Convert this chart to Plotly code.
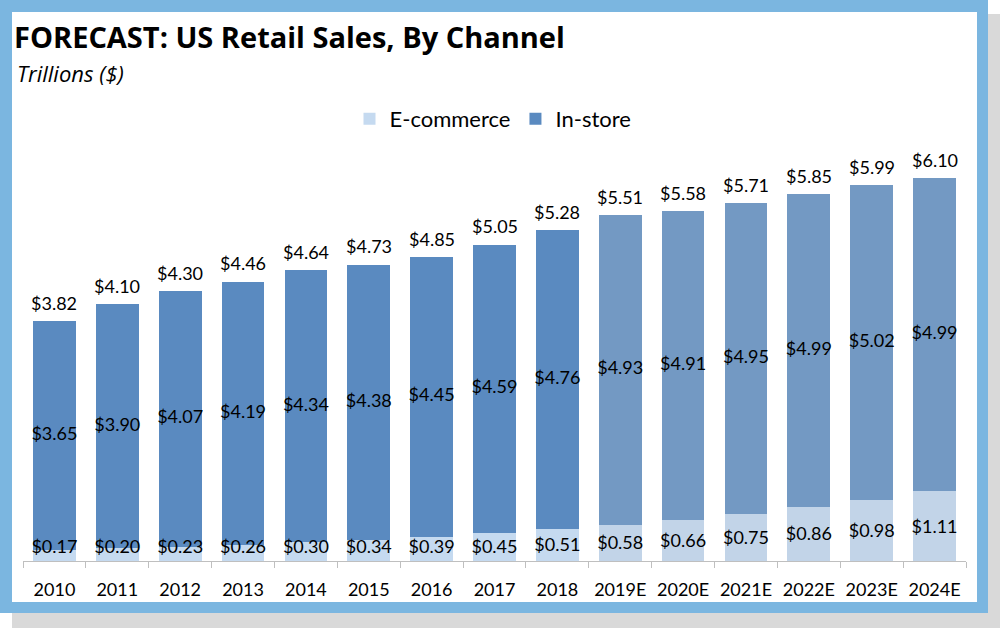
import plotly.graph_objects as go

years = ["2010", "2011", "2012", "2013", "2014", "2015", "2016", "2017", "2018",
         "2019E", "2020E", "2021E", "2022E", "2023E", "2024E"]
ecommerce = [0.17, 0.20, 0.23, 0.26, 0.30, 0.34, 0.39, 0.45, 0.51, 0.58, 0.66, 0.75, 0.86, 0.98, 1.11]
instore = [3.65, 3.90, 4.07, 4.19, 4.34, 4.38, 4.45, 4.59, 4.76, 4.93, 4.91, 4.95, 4.99, 5.02, 4.99]
totals = [3.82, 4.10, 4.30, 4.46, 4.64, 4.73, 4.85, 5.05, 5.28, 5.51, 5.58, 5.71, 5.85, 5.99, 6.10]

FONT = "Lato"
W, H = 1000, 628
L, R, T, B = 23, 34, 150, 67
PW, PH = W - L - R, H - T - B

def px(x):
    return (x - L) / PW

def py(y):
    return (H - B - y) / PH

est = [y.endswith("E") for y in years]
ecom_colors = ["#C2D4E8" if e else "#C5DAF0" for e in est]
inst_colors = ["#7399C3" if e else "#5A8AC0" for e in est]

fig = go.Figure()
fig.add_trace(go.Bar(x=years, y=ecommerce, name="E-commerce",
                     marker=dict(color=ecom_colors, line=dict(width=0)),
                     hoverinfo="skip"))
fig.add_trace(go.Bar(x=years, y=instore, name="In-store",
                     marker=dict(color=inst_colors, line=dict(width=0)),
                     hoverinfo="skip"))

lab_font = dict(family=FONT, size=18, color="#000000")
fig.add_trace(go.Scatter(x=years, y=[max(v / 2 - 0.03, 0.2) for v in ecommerce],
                         mode="text", text=[f"${v:.2f}" for v in ecommerce],
                         textfont=lab_font, showlegend=False, hoverinfo="skip"))
fig.add_trace(go.Scatter(x=years, y=[e + i / 2 for e, i in zip(ecommerce, instore)],
                         mode="text", text=[f"${v:.2f}" for v in instore],
                         textfont=lab_font, showlegend=False, hoverinfo="skip"))

annotations = [dict(x=i, y=tot, xref="x", yref="y", text=f"${tot:.2f}", showarrow=False,
                    yanchor="middle", yshift=18, font=lab_font)
               for i, tot in enumerate(totals)]
annotations.append(dict(text="<i>Trillions ($)</i>", xref="paper", yref="paper",
                        x=px(15), y=py(73), xanchor="left", yanchor="middle", showarrow=False,
                        font=dict(family="Open Sans", size=22, color="#000000")))

shapes = [
    dict(type="rect", xref="paper", yref="paper", x0=px(12), x1=px(1000), y0=py(14), y1=py(628),
         fillcolor="#D9D9D9", line=dict(width=0), layer="below"),
    dict(type="rect", xref="paper", yref="paper", x0=px(0), x1=px(988), y0=py(0), y1=py(613),
         fillcolor="#7BB6E0", line=dict(width=0), layer="below"),
    dict(type="rect", xref="paper", yref="paper", x0=px(12), x1=px(977), y0=py(12), y1=py(602),
         fillcolor="#FFFFFF", line=dict(width=0), layer="below"),
]

fig.update_layout(
    width=W, height=H,
    margin=dict(l=L, r=R, t=T, b=B, pad=0, autoexpand=False),
    paper_bgcolor="#FFFFFF",
    plot_bgcolor="rgba(0,0,0,0)",
    barmode="stack",
    bargap=0.32,
    shapes=shapes,
    annotations=annotations,
    title=dict(text="<b>FORECAST: US Retail Sales, By Channel</b>", xref="container", yref="container",
               x=14 / W, xanchor="left", y=1 - 38 / H, yanchor="middle",
               font=dict(family="Open Sans", size=29, color="#000000")),
    legend=dict(orientation="h", x=px(493), xanchor="center", y=py(119), yanchor="middle",
                font=dict(family=FONT, size=22, color="#000000"), traceorder="normal",
                bgcolor="rgba(0,0,0,0)"),
    xaxis=dict(type="category", range=[-0.5, len(years) - 0.5], showgrid=False, showline=True,
               linecolor="#BFBFBF", linewidth=1,
               ticks="outside", ticklen=6, tickcolor="#BFBFBF", tickson="boundaries",
               tickangle=0, automargin=False, ticklabelstandoff=12,
               tickfont=dict(family=FONT, size=18, color="#000000"), zeroline=False),
    yaxis=dict(range=[0, PH / 62.75], visible=False, showgrid=False, zeroline=False,
               automargin=False),
    showlegend=True,
)

fig.write_html("out.html", config={"displayModeBar": False},
               post_script="document.body.style.margin='0px';")
